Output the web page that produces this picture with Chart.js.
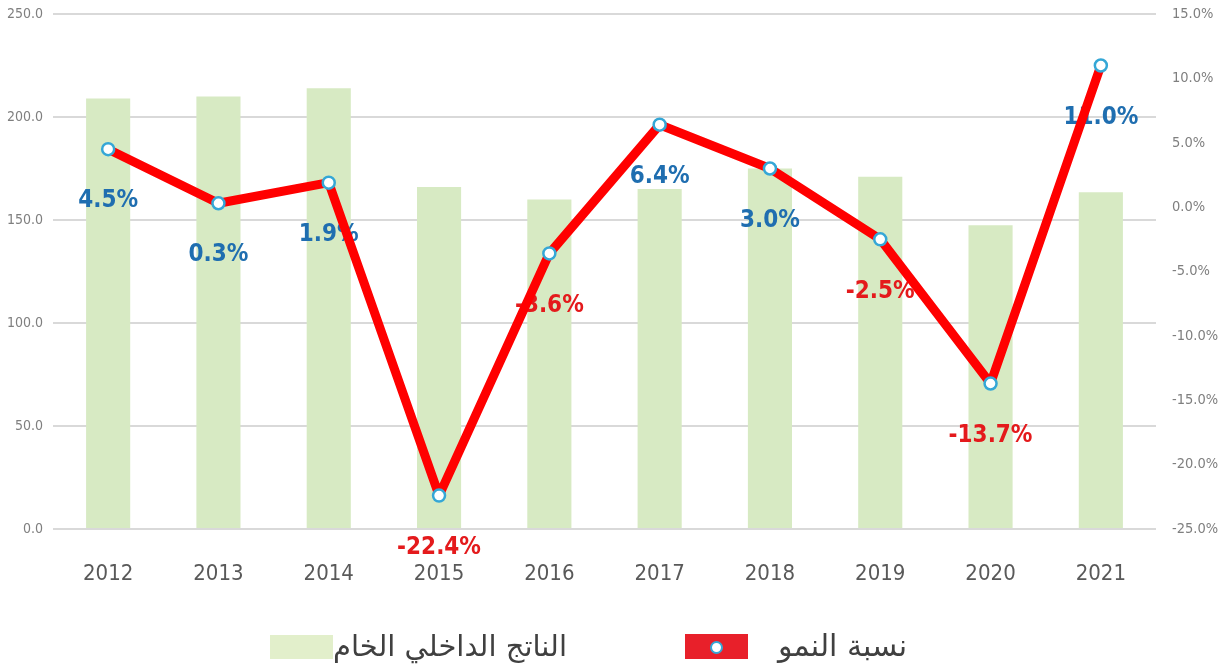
<!DOCTYPE html>
<html>
<head>
<meta charset="utf-8">
<script src="https://cdn.jsdelivr.net/npm/chart.js@4.4.1/dist/chart.umd.min.js"></script>
<style>
  html, body { margin: 0; padding: 0; background: #fff; }
  #wrap { position: relative; width: 1228px; height: 670px; }
  #c { position: absolute; left: 0; top: 0; }
  .lg-box { position: absolute; }
  .lg-text { position: absolute; font-family: "DejaVu Sans", "Noto Sans", sans-serif; font-size: 29px; color: #404040; white-space: nowrap; line-height: 34px; }
</style>
</head>
<body>
<div id="wrap">
  <canvas id="c" width="1228" height="670"></canvas>
  <div class="lg-box" style="left:270px;top:635px;width:63px;height:24px;background:#e2efcb;"></div>
  <div class="lg-text" id="t1" dir="rtl" style="left:333px;top:629px;">الناتج الداخلي الخام</div>
  <div class="lg-box" style="left:685px;top:634px;width:63px;height:25px;background:#e8202a;"></div>
  <div class="lg-box" style="left:710px;top:641px;width:9px;height:9px;border-radius:50%;background:#fff;border:2.5px solid #35a7d6;"></div>
  <div class="lg-text" id="t2" dir="rtl" style="left:778px;top:629px;font-size:30px;">نسبة النمو</div>
</div>
<script>
const years = ['2012','2013','2014','2015','2016','2017','2018','2019','2020','2021'];
const gdp = [209, 210, 214, 166, 160, 165, 175, 171, 147.5, 163.5];
const growth = [4.5, 0.3, 1.9, -22.4, -3.6, 6.4, 3.0, -2.5, -13.7, 11.0];
const growthLabels = ['4.5%','0.3%','1.9%','-22.4%','-3.6%','6.4%','3.0%','-2.5%','-13.7%','11.0%'];

const NARROW = '"Liberation Sans Narrow", "DejaVu Sans Condensed", "Roboto Condensed", sans-serif';

const labelPlugin = {
  id: 'growthLabels',
  afterDatasetDraw(chart, args) {
    if (args.index !== 0) return;
    const meta = chart.getDatasetMeta(1);
    const ctx = chart.ctx;
    ctx.save();
    ctx.font = 'bold 24px ' + NARROW;
    ctx.textAlign = 'center';
    ctx.textBaseline = 'middle';
    meta.data.forEach((pt, i) => {
      ctx.fillStyle = growth[i] < 0 ? '#e41a1c' : '#1f6eb0';
      ctx.fillText(growthLabels[i], pt.x, pt.y + 52);
    });
    ctx.restore();
  }
};

new Chart(document.getElementById('c'), {
  data: {
    labels: years,
    datasets: [
      {
        type: 'bar',
        label: 'الناتج الداخلي الخام',
        data: gdp,
        backgroundColor: '#d7eac3',
        yAxisID: 'y',
        categoryPercentage: 1.0,
        barPercentage: 0.4,
        order: 2
      },
      {
        type: 'line',
        label: 'نسبة النمو',
        data: growth,
        yAxisID: 'y1',
        borderColor: '#ff0000',
        borderWidth: 9,
        borderJoinStyle: 'round',
        borderCapStyle: 'round',
        pointRadius: 6,
        pointHoverRadius: 6,
        pointBorderWidth: 2.5,
        pointBorderColor: '#35a7d6',
        pointBackgroundColor: '#ffffff',
        tension: 0,
        order: 1
      }
    ]
  },
  options: {
    responsive: false,
    animation: false,
    events: [],
    layout: { padding: { top: 14, left: 0, right: 0, bottom: 0 } },
    plugins: {
      legend: { display: false },
      tooltip: { enabled: false }
    },
    scales: {
      x: {
        offset: true,
        grid: { display: false, drawTicks: false },
        border: { display: false },
        ticks: { color: '#595959', font: { family: NARROW, size: 22 }, padding: 32 },
        afterFit: s => { s.height = 141; }
      },
      y: {
        position: 'left',
        min: 0, max: 250,
        grid: { color: '#d9d9d9', lineWidth: 2, drawTicks: false },
        border: { display: false },
        ticks: { stepSize: 50, color: '#7f7f7f', padding: 10, font: { family: NARROW, size: 14 },
                 callback: v => Number(v).toFixed(1) },
        afterFit: s => { s.width = 53; s.paddingTop = 0; s.paddingBottom = 0; }
      },
      y1: {
        position: 'right',
        min: -25, max: 15,
        grid: { display: false, drawTicks: false },
        border: { display: false },
        ticks: { stepSize: 5, color: '#7f7f7f', padding: 16, font: { family: NARROW, size: 14.5 },
                 callback: v => Number(v).toFixed(1) + '%' },
        afterFit: s => { s.width = 72; s.paddingTop = 0; s.paddingBottom = 0; }
      }
    }
  },
  plugins: [labelPlugin]
});
</script>
</body>
</html>
